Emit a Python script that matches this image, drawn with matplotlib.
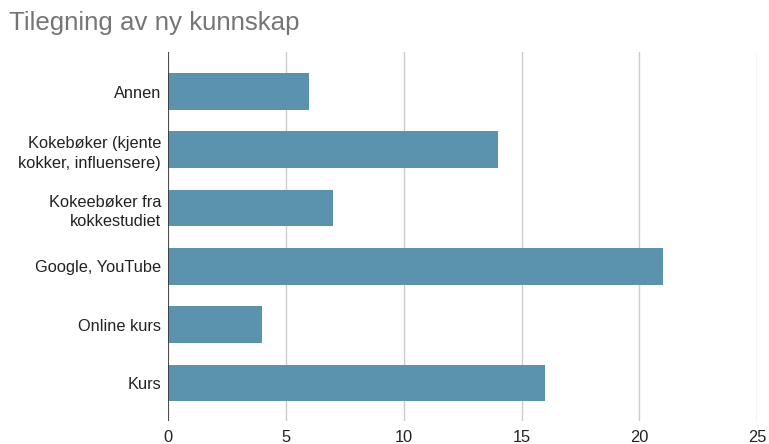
import matplotlib
matplotlib.use("Agg")
import matplotlib.pyplot as plt

categories = [
    "Annen",
    "Kokebøker (kjente\nkokker, influensere)",
    "Kokeebøker fra\nkokkestudiet",
    "Google, YouTube",
    "Online kurs",
    "Kurs",
]
values = [6, 14, 7, 21, 4, 16]
xticks = [0, 5, 10, 15, 20, 25]

plt.rcParams["font.family"] = ["Liberation Sans", "DejaVu Sans"]

fig = plt.figure(figsize=(7.69, 4.44), dpi=100)
ax = fig.add_axes([0.2185, 0.051, 0.7663, 0.832])

y = list(range(len(categories)))
ax.barh(y, values, height=0.63, color="#5B93AF", zorder=3)

ax.set_xlim(0, 25)
ax.set_ylim(len(categories) - 1 + 0.66, -0.68)
ax.set_xticks(xticks)
ax.set_xticklabels([str(t) for t in xticks])
ax.set_yticks(y)
ax.set_yticklabels(categories, linespacing=1.38)

ax.grid(axis="x", color="#cccccc", linewidth=1, zorder=0)
ax.axvline(0, color="#333333", linewidth=1.2, zorder=4)
for s in ax.spines.values():
    s.set_visible(False)
ax.tick_params(axis="both", length=0, labelsize=11.8, colors="#222222")
ax.tick_params(axis="x", pad=6)
ax.tick_params(axis="y", pad=5)

fig.text(0.012, 0.948, "Tilegning av ny kunnskap", fontsize=18.6,
         color="#757575", ha="left", va="center")

fig.savefig("out.png", dpi=100, facecolor="white")
